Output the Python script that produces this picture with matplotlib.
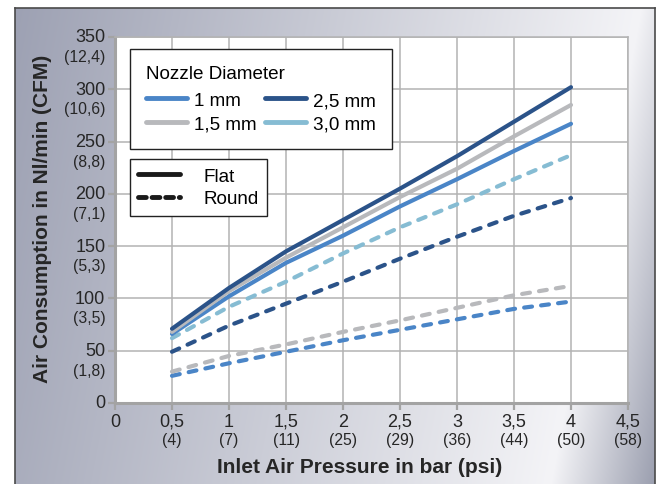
import numpy as np
import matplotlib
matplotlib.use('Agg')
import matplotlib.pyplot as plt
from matplotlib.lines import Line2D

plt.rcParams['font.family'] = ['Liberation Sans', 'DejaVu Sans']

# data
pressure_bar = [0.5, 1, 1.5, 2, 2.5, 3, 3.5, 4]
flat_1mm = [66, 102, 134, 160, 188, 214, 241, 267]
flat_15mm = [68, 107, 139, 168, 197, 224, 255, 285]
flat_25mm = [71, 110, 145, 175, 205, 236, 269, 302]
round_1mm = [26, 38, 49, 60, 70, 80, 90, 97]
round_15mm = [30, 45, 56, 68, 79, 91, 103, 112]
round_25mm = [49, 74, 95, 116, 138, 159, 179, 196]
round_30mm = [62, 92, 116, 143, 168, 190, 214, 237]

xticks = [0, 0.5, 1, 1.5, 2, 2.5, 3, 3.5, 4, 4.5]
xtick_labels = ['0', '0,5', '1', '1,5', '2', '2,5', '3', '3,5', '4', '4,5']
xtick_psi = ['', '(4)', '(7)', '(11)', '(25)', '(29)', '(36)', '(44)', '(50)', '(58)']
yticks = [0, 50, 100, 150, 200, 250, 300, 350]
ytick_cfm = ['', '(1,8)', '(3,5)', '(5,3)', '(7,1)', '(8,8)', '(10,6)', '(12,4)']

nozzles = ['1 mm', '1,5 mm', '2,5 mm', '3,0 mm']
colors = {'1 mm': '#4a85c7', '1,5 mm': '#b8b9bc', '2,5 mm': '#2b5389', '3,0 mm': '#86bcd3'}

txt = '#262626'
W, H = 661, 485
fig = plt.figure(figsize=(W / 100, H / 100), dpi=100)

# gradient panel behind the chart
bg = fig.add_axes([15 / W, 0, 640 / W, 476 / H])
px = np.arange(640) + 15
py = np.arange(476) + 9
PX, PY = np.meshgrid(px, py)
s = PX + 0.19 * PY
dark = np.array([157, 161, 179]) / 255
light = np.array([244, 244, 247]) / 255
dark2 = np.array([150, 154, 171]) / 255
u = np.clip((s - 17) / (642 - 17), 0, 1)[..., None]
v = np.clip((s - 642) / 110, 0, 1)[..., None]
img = np.where(s[..., None] < 642, dark + (light - dark) * u, light + (dark2 - light) * v)
bg.imshow(img, aspect='auto', interpolation='bilinear')
bg.set_xticks([])
bg.set_yticks([])
for sp in bg.spines.values():
    sp.set_color('#4a4a4a')
    sp.set_linewidth(1.2)
bg.spines['bottom'].set_visible(False)

ax = fig.add_axes([115 / W, 81 / H, 513 / W, 366 / H])
ax.set_facecolor('white')
ax.set_xlim(0, 4.5)
ax.set_ylim(0, 350)
ax.set_xticks(xticks)
ax.set_yticks(yticks)
ax.grid(True, color='#b3b3b3', lw=1.1)
ax.set_axisbelow(True)
for side in ['top', 'right']:
    ax.spines[side].set_color('#b3b3b3')
    ax.spines[side].set_linewidth(1.1)
for side in ['left', 'bottom']:
    ax.spines[side].set_color('#a3a3a3')
    ax.spines[side].set_linewidth(2.2)
ax.tick_params(direction='out', length=5, width=1.6, color='#a3a3a3',
               labelleft=False, labelbottom=False)

dash = (0, (1.9, 2.2))
lw = 3.0
ax.plot(pressure_bar, round_1mm, color=colors['1 mm'], lw=lw, ls=dash, dash_capstyle='round')
ax.plot(pressure_bar, round_15mm, color=colors['1,5 mm'], lw=lw, ls=dash, dash_capstyle='round')
ax.plot(pressure_bar, round_25mm, color=colors['2,5 mm'], lw=lw, ls=dash, dash_capstyle='round')
ax.plot(pressure_bar, round_30mm, color=colors['3,0 mm'], lw=lw, ls=dash, dash_capstyle='round')
ax.plot(pressure_bar, flat_1mm, color=colors['1 mm'], lw=lw, solid_capstyle='round')
ax.plot(pressure_bar, flat_15mm, color=colors['1,5 mm'], lw=lw, solid_capstyle='round')
ax.plot(pressure_bar, flat_25mm, color=colors['2,5 mm'], lw=lw, solid_capstyle='round')

# two-line tick labels
for yv, sub in zip(yticks, ytick_cfm):
    ax.annotate(str(yv), xy=(0, yv), xycoords=ax.get_yaxis_transform(),
                xytext=(-7, 0), textcoords='offset points',
                ha='right', va='center', fontsize=13, color=txt)
    if sub:
        ax.annotate(sub, xy=(0, yv), xycoords=ax.get_yaxis_transform(),
                    xytext=(-7, -14), textcoords='offset points',
                    ha='right', va='center', fontsize=11.3, color=txt)
for xv, lab, sub in zip(xticks, xtick_labels, xtick_psi):
    ax.annotate(lab, xy=(xv, 0), xycoords=ax.get_xaxis_transform(),
                xytext=(0, -13), textcoords='offset points',
                ha='center', va='center', fontsize=13, color=txt)
    if sub:
        ax.annotate(sub, xy=(xv, 0), xycoords=ax.get_xaxis_transform(),
                    xytext=(0, -26.5), textcoords='offset points',
                    ha='center', va='center', fontsize=11.3, color=txt)

fig.text(43 / W, 0.5495, 'Air Consumption in Nl/min (CFM)', rotation=90,
         ha='center', va='center', fontsize=15, fontweight='bold', color=txt)
fig.text(0.5446, 0.036, 'Inlet Air Pressure in bar (psi)',
         ha='center', va='center', fontsize=15, fontweight='bold', color=txt)

# legends
h1 = [Line2D([], [], color=colors[n], lw=3.5, solid_capstyle='round') for n in nozzles]
leg1 = ax.legend(h1, nozzles, ncol=2, title='Nozzle Diameter', loc='upper left',
                 bbox_to_anchor=(0.029, 0.967), borderaxespad=0, fontsize=13.6,
                 title_fontsize=13.6, alignment='left', frameon=True, fancybox=False,
                 framealpha=1, edgecolor='#222222', handlelength=2.2,
                 handletextpad=0.33, columnspacing=0.45, labelspacing=0.35,
                 borderpad=0.85)
leg1.get_frame().set_linewidth(1.0)
leg1._legend_box.sep = 7
ax.add_artist(leg1)

h2 = [Line2D([], [], color='#1a1a1a', lw=3.5, solid_capstyle='round'),
      Line2D([], [], color='#1a1a1a', lw=3.5, ls=(0, (1.6, 1.2)), dash_capstyle='round')]
leg2 = ax.legend(h2, ['Flat', 'Round'], loc='upper left',
                 bbox_to_anchor=(0.029, 0.667), borderaxespad=0, fontsize=13.6,
                 frameon=True, fancybox=False, framealpha=1, edgecolor='#222222',
                 handlelength=2.2, handletextpad=1.25, labelspacing=0.3,
                 borderpad=0.45)
leg2.get_frame().set_linewidth(1.0)

fig.savefig('out.png', dpi=100)
